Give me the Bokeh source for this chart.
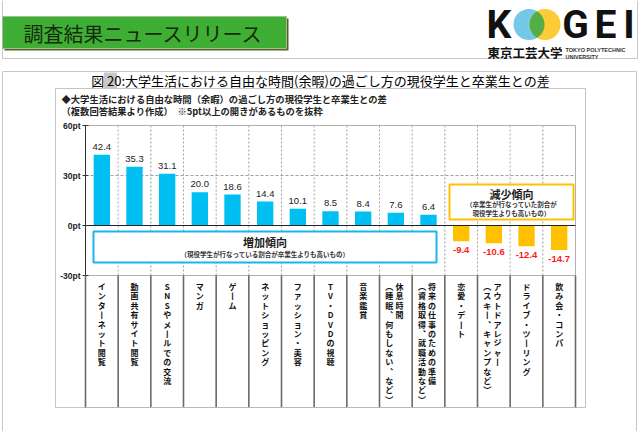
import numpy as np
from bokeh.plotting import figure
from bokeh.models import Range1d, ColumnDataSource
from bokeh.core.properties import value
from bokeh.embed import file_html
from bokeh.resources import INLINE

# ---------------- data ----------------
categories = [
    "インターネット閲覧",
    "動画共有サイト閲覧",
    "SNSやメールでの交流",
    "マンガ",
    "ゲーム",
    "ネットショッピング",
    "ファッション・美容",
    "TV・DVDの視聴",
    "音楽鑑賞",
    "休息時間（睡眠、何もしない、など）",
    "将来の仕事のための準備（資格取得、就職活動など）",
    "恋愛・デート",
    "アウトドアレジャー（スキー、キャンプなど）",
    "ドライブ・ツーリング",
    "飲み会・コンパ",
]
values = [42.4, 35.3, 31.1, 20.0, 18.6, 14.4, 10.1, 8.5, 8.4, 7.6, 6.4,
          -9.4, -10.6, -12.4, -14.7]
y_ticks = [60, 30, 0, -30]
y_tick_labels = ["60pt", "30pt", "0pt", "-30pt"]

header_text = "調査結果ニュースリリース"
title_text = "図 20:大学生活における自由な時間(余暇)の過ごし方の現役学生と卒業生との差"
sub1_text = "◆大学生活における自由な時間（余暇）の過ごし方の現役学生と卒業生との差"
sub2_text = "（複数回答結果より作成）　※5pt以上の開きがあるものを抜粋"
inc_title = "増加傾向"
inc_note = "（現役学生が行なっている割合が卒業生よりも高いもの）"
dec_title = "減少傾向"
dec_note = ["（卒業生が行なっていた割合が", "現役学生よりも高いもの）"]

# ---------------- layout ----------------
W, H = 640, 431
PL, PR = 85, 575            # plot area left/right (px)
ZERO_Y = 225                # pixel row of 0pt
PPU = 50 / 30               # pixels per pt
N = len(categories)
CW = (PR - PL) / N
X0 = -0.5 - PL / CW
X1 = X0 + W / CW
V_TOP = ZERO_Y / PPU
V_BOT = -(H - ZERO_Y) / PPU
VMAX, VMIN = max(y_ticks), min(y_ticks)
LABEL_TOP, TABLE_BOTTOM = 286, 407
PITCH = 9.4

JP = value("Noto Sans CJK JP")
LAT = value("Liberation Sans")

p = figure(width=W, height=H, x_range=Range1d(0, W), y_range=Range1d(H, 0),
           output_backend="svg", toolbar_location=None,
           x_axis_type=None, y_axis_type=None, min_border=0)
p.outline_line_color = None
p.background_fill_color = "white"
p.border_fill_color = "white"
p.extra_x_ranges = {"cx": Range1d(X0, X1)}
p.extra_y_ranges = {"v": Range1d(V_BOT, V_TOP)}

# ---------------- header ----------------
p.segment(x0=[2, 2, 637], y0=[0, 58, 0], x1=[2, 637, 637], y1=[58, 58, 58],
          line_color="#c8c8c8", line_width=1)
p.quad(left=[4], right=[288], top=[18], bottom=[50], fill_color="#55602a", line_color=None)
p.quad(left=[2], right=[286], top=[16], bottom=[48], fill_color="#3fae34",
       line_color="#9fbf90", line_width=1)
p.text(x=[23], y=[33], text=[header_text], text_font=JP, text_font_size="20px",
       text_color="#142a0c", text_baseline="middle", text_align="left")

# logo
p.circle(x=[528.5], y=[24], radius=15.5, fill_color="#74c8e8", line_color=None)
p.circle(x=[544.5], y=[24], radius=15.5, fill_color="#fdcb35", line_color=None)
r, c1, c2 = 15.5, 528.5, 544.5
t = np.arccos(((c2 - c1) / 2) / r)
ang = np.linspace(-t, t, 30)
lx = np.concatenate([c1 + r * np.cos(ang), c2 - r * np.cos(ang[::-1])])
ly = np.concatenate([24 + r * np.sin(ang), 24 + r * np.sin(ang[::-1])])
p.patch(x=lx, y=ly, fill_color="#55ad48", line_color=None)
p.text(x=[498.5, 575, 605, 628.5], y=[24] * 4, text=["K", "G", "E", "I"],
       text_font=value("Roboto"), text_font_style="bold", text_font_size="39px",
       text_color="#111111", text_align="center", text_baseline="middle")
p.text(x=[487], y=[52], text=["東京工芸大学"], text_font=JP, text_font_style="bold",
       text_font_size="12.5px", text_color="#111111", text_baseline="middle")
p.text(x=[565, 565], y=[49, 56], text=["TOKYO POLYTECHNIC", "UNIVERSITY"],
       text_font=LAT, text_font_style="bold", text_font_size="5.5px",
       text_color="#333333", text_baseline="middle")

# ---------------- frames ----------------
p.segment(x0=[2, 2, 636], y0=[71, 71, 71], x1=[636, 2, 636], y1=[71, H, H],
          line_color="#c8c8c8", line_width=1)
p.quad(left=[55], right=[585], top=[88], bottom=[TABLE_BOTTOM], fill_color=None,
       line_color="#c4c4c4", line_width=1)

# titles
p.quad(left=[103.5], right=[116.5], top=[72], bottom=[88], fill_color="#c8c8c8", line_color=None)
p.text(x=[320], y=[80], text=[title_text], text_font=JP, text_font_size="13px",
       text_color="#000000", text_align="center", text_baseline="middle")
p.text(x=[61, 61], y=[98, 110], text=[sub1_text, sub2_text], text_font=JP,
       text_font_style="bold", text_font_size="9.3px", text_color="#222222",
       text_baseline="middle", text_align="left")

# ---------------- plot area ----------------
idx = list(range(N))
bounds = [k - 0.5 for k in range(1, N)]
# dashed vertical grid
p.segment(x0=bounds, x1=bounds, y0=[VMIN] * len(bounds), y1=[VMAX] * len(bounds),
          x_range_name="cx", y_range_name="v", line_color="#a0a0a0",
          line_dash="2 2", line_width=1)
# dashed horizontal grid
grid_vals = [v for v in y_ticks if v not in (0, VMAX, VMIN)]
p.segment(x0=[-0.5] * len(grid_vals), x1=[N - 0.5] * len(grid_vals), y0=grid_vals, y1=grid_vals,
          x_range_name="cx", y_range_name="v", line_color="#a0a0a0",
          line_dash="3 2", line_width=1)
# top / right / bottom borders of plot
p.segment(x0=[-0.5, N - 0.5, -0.5], x1=[N - 0.5, N - 0.5, N - 0.5],
          y0=[VMAX, VMAX, VMIN], y1=[VMAX, VMIN, VMIN],
          x_range_name="cx", y_range_name="v", line_color="#b0b0b0", line_width=1)

# bars
pos = [v >= 0 for v in values]
src = ColumnDataSource(dict(
    x=idx, top=values,
    color=["#00bff3" if s else "#ffc000" for s in pos],
))
p.vbar(x="x", top="top", bottom=0, width=0.5, source=src, fill_color="color",
       line_color=None, x_range_name="cx", y_range_name="v")

# zero line
p.segment(x0=[-0.5], x1=[N - 0.5], y0=[0], y1=[0], x_range_name="cx", y_range_name="v",
          line_color="#222222", line_width=1.2)

# value labels
pi = [i for i in idx if pos[i]]
ni = [i for i in idx if not pos[i]]
p.text(x=pi, y=[values[i] for i in pi], text=[f"{values[i]:.1f}" for i in pi],
       x_range_name="cx", y_range_name="v", text_font=LAT, text_font_size="9.5px",
       text_color="#222222", text_align="center", text_baseline="bottom", y_offset=-5)
p.text(x=ni, y=[values[i] for i in ni], text=[f"{values[i]:.1f}" for i in ni],
       x_range_name="cx", y_range_name="v", text_font=LAT, text_font_style="bold",
       text_font_size="9.5px", text_color="#ff1a1a", text_align="center",
       text_baseline="top", y_offset=6)

# y axis
p.segment(x0=[-0.5], x1=[-0.5], y0=[VMIN], y1=[VMAX], x_range_name="cx", y_range_name="v",
          line_color="#333333", line_width=1)
p.segment(x0=[PL - 3] * len(y_ticks), x1=[PL + 3] * len(y_ticks),
          y0=[ZERO_Y - v * PPU for v in y_ticks], y1=[ZERO_Y - v * PPU for v in y_ticks],
          line_color="#333333", line_width=1)
p.text(x=[-0.5] * len(y_ticks), y=y_ticks, text=y_tick_labels, x_range_name="cx",
       y_range_name="v", x_offset=-5, text_font=LAT, text_font_style="bold",
       text_font_size="8.5px", text_color="#222222", text_align="right",
       text_baseline="middle")

# ---------------- boxes ----------------
p.quad(left=[93], right=[436], top=[231], bottom=[262], fill_color="white",
       line_color="#1ab6ea", line_width=2)
p.text(x=[264.5], y=[241], text=[inc_title], text_font=JP, text_font_style="bold",
       text_font_size="11px", text_color="#222222", text_align="center", text_baseline="middle")
p.text(x=[264.5], y=[253.5], text=[inc_note], text_font=JP, text_font_style="bold",
       text_font_size="6.5px", text_color="#333333", text_align="center", text_baseline="middle")
p.quad(left=[449], right=[573], top=[184], bottom=[219], fill_color="white",
       line_color="#ffc000", line_width=2)
p.text(x=[511], y=[193], text=[dec_title], text_font=JP, text_font_style="bold",
       text_font_size="11px", text_color="#222222", text_align="center", text_baseline="middle")
p.text(x=[511, 511], y=[203.5, 212.5], text=dec_note, text_font=JP, text_font_style="bold",
       text_font_size="6.5px", text_color="#333333", text_align="center", text_baseline="middle")

# ---------------- category table ----------------
tb = [k - 0.5 for k in range(0, N + 1)]
p.segment(x0=tb, x1=tb, y0=[ZERO_Y - VMIN * PPU] * len(tb), y1=[TABLE_BOTTOM] * len(tb),
          x_range_name="cx", line_color="#6a6a6a", line_width=1.6)
p.segment(x0=[-0.5], x1=[N - 0.5], y0=[TABLE_BOTTOM], y1=[TABLE_BOTTOM],
          x_range_name="cx", line_color="#b8b8b8", line_width=1)

# vertical (tategaki) category labels, one character per line
VERT = {"（": "︵", "）": "︶", "、": "︑", "ー": "丨"}
columns = []
for i, lab in enumerate(categories):
    if "（" in lab:
        main, rest = lab.split("（", 1)
        columns += [(i + 0.11, main), (i - 0.2, "（" + rest)]
    else:
        columns.append((i, lab))
chx, chy, cht = [], [], []
for xpos, s in columns:
    for k, ch in enumerate(s):
        chx.append(xpos)
        chy.append(LABEL_TOP + k * PITCH)
        cht.append(VERT.get(ch, ch))
p.text(x=chx, y=chy, text=cht, x_range_name="cx",
       text_font=JP, text_font_style="bold", text_font_size="8px",
       text_color="#111111", text_align="center", text_baseline="middle")

open("out.html", "w").write(file_html(p, INLINE))
